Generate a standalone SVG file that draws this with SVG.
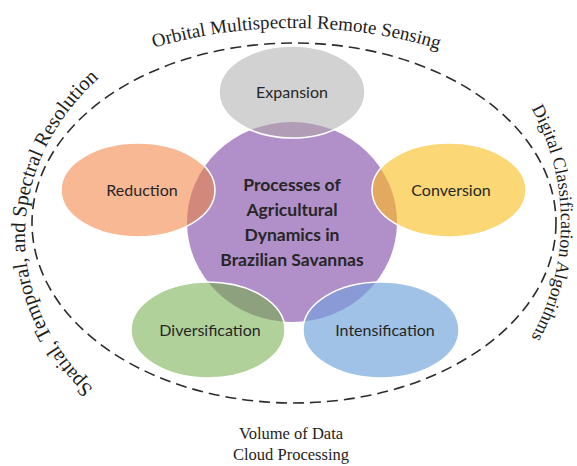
<svg xmlns="http://www.w3.org/2000/svg" width="577" height="466" viewBox="0 0 577 466">
  <style>
    .frame { fill: none; stroke: #2b2b2b; stroke-width: 1.6; stroke-dasharray: 11 6; }
    .outer { font-family: "Liberation Serif", "Times New Roman", serif; fill: #1e1e1e; }
    .lbl { font-family: Lato, "Open Sans", sans-serif; font-size: 16px; fill: #262626; text-anchor: middle; }
    .core-lbl { font-family: Lato, "Open Sans", sans-serif; font-size: 17.5px; font-weight: bold; fill: #262626; text-anchor: middle; }
    .petal { stroke: #ffffff; stroke-width: 1.5; }
  </style>
  <defs>
    <clipPath id="core-clip">
      <ellipse cx="292" cy="222" rx="105" ry="100"/>
    </clipPath>
    <path id="arc-top" d="M -26 223 A 320 195 0 0 1 614 223"/>
    <path id="arc-left" d="M 296 466 A 271 230 0 0 1 25 236 A 271 230 0 0 1 296 6"/>
    <path id="arc-right" d="M 294 -27 A 267 250 0 0 1 561 223 A 267 250 0 0 1 294 473"/>
  </defs>

  <rect width="577" height="466" fill="#ffffff"/>

  <!-- dashed boundary -->
  <g id="frame">
    <ellipse class="frame" cx="294" cy="223" rx="262" ry="180"/>
  </g>

  <!-- central process -->
  <g id="core">
    <ellipse cx="292" cy="222" rx="105" ry="100" fill="#b18fc9"/>
  </g>

  <g id="expansion">
    <ellipse cx="292" cy="92" rx="73" ry="46" fill="#d2d2d2"/>
    <ellipse cx="292" cy="92" rx="73" ry="46" fill="#b29db6" clip-path="url(#core-clip)"/>
    <ellipse class="petal" cx="292" cy="92" rx="73" ry="46" fill="none"/>
    <text class="lbl" x="292" y="98">Expansion</text>
  </g>

  <g id="reduction">
    <ellipse cx="138" cy="190" rx="77" ry="47" fill="#f8b894"/>
    <ellipse cx="138" cy="190" rx="77" ry="47" fill="#d2887a" clip-path="url(#core-clip)"/>
    <ellipse class="petal" cx="138" cy="190" rx="77" ry="47" fill="none"/>
    <text class="lbl" x="142" y="196">Reduction</text>
  </g>

  <g id="conversion">
    <ellipse cx="449" cy="190" rx="77" ry="47" fill="#fcd775"/>
    <ellipse cx="449" cy="190" rx="77" ry="47" fill="#e2a95f" clip-path="url(#core-clip)"/>
    <ellipse class="petal" cx="449" cy="190" rx="77" ry="47" fill="none"/>
    <text class="lbl" x="451" y="196">Conversion</text>
  </g>

  <g id="diversification">
    <ellipse cx="208" cy="330" rx="77" ry="48" fill="#b0d29a"/>
    <ellipse cx="208" cy="330" rx="77" ry="48" fill="#8da17f" clip-path="url(#core-clip)"/>
    <ellipse class="petal" cx="208" cy="330" rx="77" ry="48" fill="none"/>
    <text class="lbl" x="210" y="336">Diversification</text>
  </g>

  <g id="intensification">
    <ellipse cx="381" cy="330" rx="78" ry="48" fill="#9fc2e6"/>
    <ellipse cx="381" cy="330" rx="78" ry="48" fill="#8a9ad6" clip-path="url(#core-clip)"/>
    <ellipse class="petal" cx="381" cy="330" rx="78" ry="48" fill="none"/>
    <text class="lbl" x="385" y="336">Intensification</text>
  </g>

  <g id="core-label">
    <text class="core-lbl" x="292" y="191">Processes of</text>
    <text class="core-lbl" x="292" y="216">Agricultural</text>
    <text class="core-lbl" x="292" y="241">Dynamics in</text>
    <text class="core-lbl" x="292" y="266">Brazilian Savannas</text>
  </g>

  <!-- curved captions around the boundary -->
  <g id="captions" class="outer">
    <text font-size="19"><textPath href="#arc-top" startOffset="50.3%" text-anchor="middle">Orbital Multispectral Remote Sensing</textPath></text>
    <text font-size="20.5"><textPath href="#arc-left" startOffset="50.5%" text-anchor="middle">Spatial, Temporal, and Spectral Resolution</textPath></text>
    <text font-size="18"><textPath href="#arc-right" startOffset="50%" text-anchor="middle">Digital Classification Algorithms</textPath></text>
    <text font-size="16.5" x="291" y="439" text-anchor="middle">Volume of Data</text>
    <text font-size="16.5" x="291" y="460" text-anchor="middle">Cloud Processing</text>
  </g>
</svg>
